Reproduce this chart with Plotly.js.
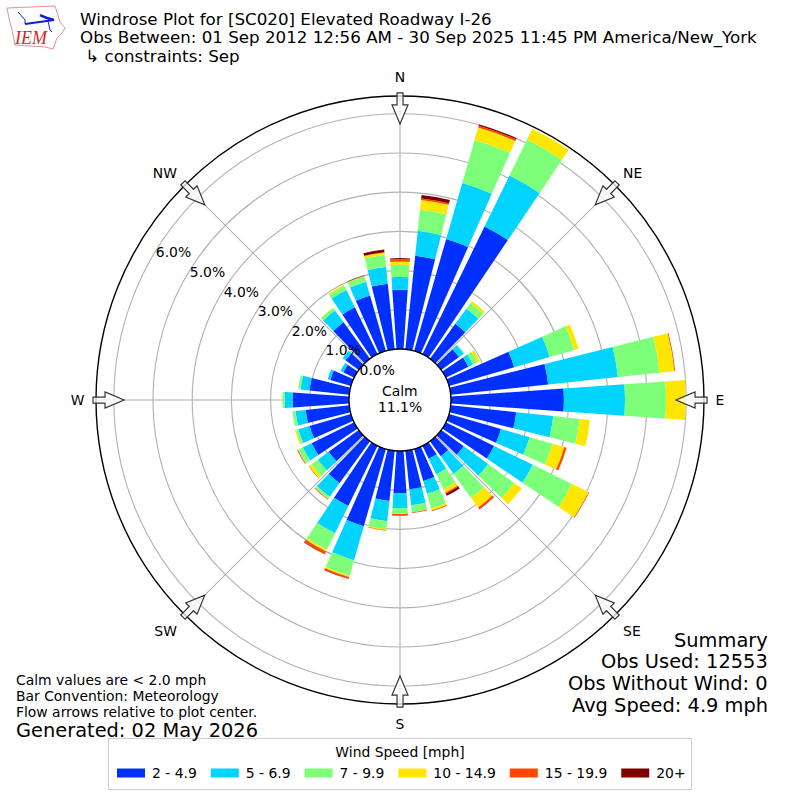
<!DOCTYPE html>
<html><head><meta charset="utf-8">
<script src="https://cdn.plot.ly/plotly-3.0.1.min.js"></script>
<style>html,body{margin:0;padding:0;background:#fff}#c{width:800px;height:800px}</style>
</head><body><div id="c"></div>
<script>
const directions=[0,10,20,30,40,50,60,70,80,90,100,110,120,130,140,150,160,170,180,190,200,210,220,230,240,250,260,270,280,290,300,310,320,330,340,350];
const speedLabels=["2 - 4.9","5 - 6.9","7 - 9.9","10 - 14.9","15 - 19.9","20+"];
const speedColors=["#0030ff","#00d4ff","#7dff7a","#ffe600","#ff4700","#7f0000"];
const s2to5=[1.51,2.40,2.97,3.62,1.10,.56,.64,1.73,2.50,2.88,1.68,1.38,1.37,.71,.47,.37,.85,.99,1.08,1.29,2.05,1.71,1.32,.95,1.21,1.10,1.12,1.44,1.02,.55,.31,.42,1.15,1.33,1.47,1.68];
const s5to7=[.33,.64,1.49,1.45,.48,.15,.13,.94,1.79,1.56,.95,.76,1.10,.77,.56,.44,.34,.41,.38,.52,.90,.77,.43,.34,.25,.30,.26,.20,.23,.07,.08,.09,.37,.49,.37,.43];
const s7to10=[.31,.54,1.14,1.02,.18,.02,.13,.65,1.07,1.05,.68,.61,1.11,.82,.76,.42,.39,.17,.13,.20,.41,.47,.06,.20,.13,.06,.08,.06,.06,0,0,0,.08,.12,.14,.31];
const s10to15=[.08,.25,.33,.31,.06,0,.07,.12,.38,.50,.26,.31,.47,.23,.30,.10,.05,.01,.02,.03,.04,.05,.01,.08,.01,.03,0,0,0,0,0,0,.01,.03,.01,.06];
const s15to20=[.06,.04,.05,0,0,0,0,0,.02,0,0,.06,.02,0,.05,.03,.02,.02,.04,.01,.04,.07,.02,.01,.02,0,0,0,0,0,0,0,0,0,.01,.01];
const s20up=[.03,.09,.03,0,0,0,0,0,0,0,0,0,0,0,.01,.06,0,0,0,0,.01,.01,0,0,0,0,0,0,0,0,0,0,0,0,.01,.07];
const seriesValues=[s2to5,s5to7,s7to10,s10to15,s15to20,s20up];
const radialTicks=[0,1,2,3,4,5,6];
const radialLabels=["0.0%","1.0%","2.0%","3.0%","4.0%","5.0%","6.0%"];
const compassAngles=[0,45,90,135,180,225,270,315];
const compassLabels=["N","NE","E","SE","S","SW","W","NW"];
const F="DejaVu Sans";
const traces=[];
seriesValues.forEach((v,i)=>traces.push({type:"barpolar",r:v,theta:directions,width:directions.map(()=>8),
  name:speedLabels[i],legendgroup:speedLabels[i],showlegend:false,marker:{color:speedColors[i],line:{width:0}},hoverinfo:"none"}));
speedLabels.forEach((n,i)=>traces.push({type:"scatterpolar",mode:"lines",r:[null],theta:[null],name:n,legendgroup:n,
  line:{color:speedColors[i],width:9},hoverinfo:"none"}));
const W=800,H=800,px=x=>x/W,py=y=>1-y/H;
const note=(x,y,t,size,anchor,color,extra)=>Object.assign({xref:"paper",yref:"paper",x:px(x),y:py(y),text:t,showarrow:false,xanchor:anchor||"left",yanchor:"middle",
  font:{family:F,size:size,color:color||"#000"},borderpad:0,borderwidth:0},extra||{});
const annotations=[
 note(80,19,"Windrose Plot for [SC020] Elevated Roadway I-26",16.7),
 note(80,37,"Obs Between: 01 Sep 2012 12:56 AM - 30 Sep 2025 11:45 PM America/New_York",16.7),
 note(80,56," ↳ constraints: Sep",16.7),
 note(400,391,"Calm",13.9,"center"),
 note(400,407,"11.1%",13.9,"center"),
 note(16,680,"Calm values are &lt; 2.0 mph",13.9),
 note(16,696,"Bar Convention: Meteorology",13.9),
 note(16,712,"Flow arrows relative to plot center.",13.9),
 note(16,730,"Generated: 02 May 2026",19.4),
 note(768,640,"Summary",19.4,"right"),
 note(768,661,"Obs Used: 12553",19.4,"right"),
 note(768,683,"Obs Without Wind: 0",19.4,"right"),
 note(768,705,"Avg Speed: 4.9 mph",19.4,"right"),
 note(31,38,"IEM",16,"center","#d62728",{font:{family:"Liberation Serif",size:18,color:"#d62728"},text:"<i>IEM</i>"})
];
// hollow flow arrows round the rim, tip pointing to the centre
const arrowLocal=[[-3,-307],[3,-307],[3,-295],[8,-295],[0,-276],[-8,-295],[-3,-295]];
const arrowPath=a=>{const t=a*Math.PI/180,c=Math.cos(t),s=Math.sin(t);
  return arrowLocal.map((p,i)=>{const X=400+p[0]*c-p[1]*s,Y=400+p[0]*s+p[1]*c;return (i?"L":"M")+px(X).toFixed(4)+","+py(Y).toFixed(4)}).join(" ")+" Z"};
const paperPath=(pts,close)=>pts.map((p,i)=>(i?"L":"M")+px(p[0]).toFixed(4)+","+py(p[1]).toFixed(4)).join(" ")+(close?" Z":"");
const shapes=compassAngles.map(a=>({type:"path",xref:"paper",yref:"paper",path:arrowPath(a),fillcolor:"rgba(255,255,255,0.75)",line:{color:"#333",width:1.2},layer:"above"}));
shapes.push({type:"path",xref:"paper",yref:"paper",layer:"above",line:{color:"#e89090",width:1},fillcolor:"rgba(0,0,0,0)",
  path:paperPath([[7,8],[55,6],[57,12],[60,22],[65,28],[62,33],[57,38],[53,49],[45,47],[15,45],[12,30],[9,18]],true)});
shapes.push({type:"path",xref:"paper",yref:"paper",layer:"above",line:{color:"#1020d0",width:2},fillcolor:"rgba(0,0,0,0)",
  path:paperPath([[25,24],[54,20]])});
shapes.push({type:"path",xref:"paper",yref:"paper",layer:"above",line:{color:"#1020d0",width:1},fillcolor:"rgba(0,0,0,0)",
  path:paperPath([[18,12],[25,20],[25,24]])});
shapes.push({type:"path",xref:"paper",yref:"paper",layer:"above",line:{color:"#1020d0",width:2.5},fillcolor:"rgba(0,0,0,0)",
  path:paperPath([[40,15],[47,18],[54,20]])});
shapes.push({type:"path",xref:"paper",yref:"paper",layer:"above",line:{color:"#1020d0",width:1},fillcolor:"rgba(0,0,0,0)",
  path:paperPath([[48,21],[50,30],[52,32]])});
const layout={width:W,height:H,margin:{l:0,r:0,t:0,b:0},paper_bgcolor:"#fff",showlegend:true,font:{family:F,size:13.9,color:"#000"},
 polar:{domain:{x:[.12,.88],y:[.12,.88]},hole:51/304,barmode:"stack",bgcolor:"#fff",
  angularaxis:{direction:"clockwise",rotation:90,tickmode:"array",tickvals:compassAngles,ticktext:compassLabels,showgrid:true,gridcolor:"#b0b0b0",gridwidth:1.1,
    showline:true,linecolor:"#000",linewidth:1.4,ticks:"outside",ticklen:8,tickcolor:"rgba(0,0,0,0)",tickfont:{family:F,size:13.9,color:"#000"}},
  radialaxis:{range:[0,6.454],angle:150,tickangle:150,side:"clockwise",tickmode:"array",tickvals:radialTicks,ticktext:radialLabels,showline:false,ticks:"",
    showgrid:true,gridcolor:"#b0b0b0",gridwidth:1.1,tickfont:{family:F,size:13.9,color:"#000"}}},
 legend:{orientation:"h",x:.5,xanchor:"center",y:.012,yanchor:"bottom",bordercolor:"#ccc",borderwidth:1,bgcolor:"#fff",itemwidth:34,
  title:{text:"Wind Speed [mph]",side:"top center",font:{family:F,size:13.9}},font:{family:F,size:13.9,color:"#000"},itemclick:false,itemdoubleclick:false},
 annotations,shapes};
Plotly.newPlot("c",traces,layout,{displayModeBar:false,staticPlot:true}).then(()=>{
  document.querySelectorAll("#c .legendlines path").forEach(p=>p.setAttribute("d","M9,0h28"));
});
</script></body></html>
